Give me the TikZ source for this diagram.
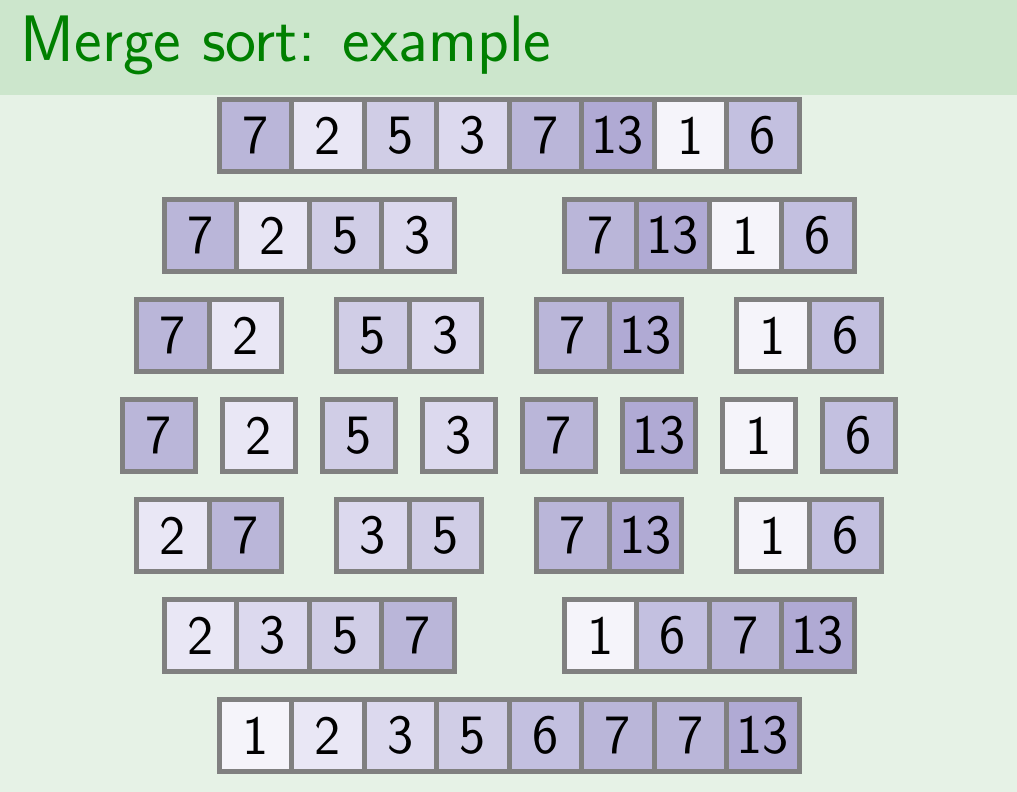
\documentclass[tikz,border=0pt]{standalone}
\usepackage{tikz}
\usetikzlibrary{positioning}

\definecolor{titlegreen}{HTML}{008000}
\definecolor{titlebg}{HTML}{CCE6CC}
\definecolor{bodybg}{HTML}{E6F2E6}
\definecolor{cellborder}{HTML}{808080}
\definecolor{v1}{HTML}{F5F4FA}
\definecolor{v2}{HTML}{E9E7F5}
\definecolor{v3}{HTML}{DCD9EE}
\definecolor{v5}{HTML}{D0CDE6}
\definecolor{v6}{HTML}{C3C0E0}
\definecolor{v7}{HTML}{BAB6D9}
\definecolor{v13}{HTML}{B0AAD4}

\begin{document}
\begin{tikzpicture}[%
    cell/.style={draw=cellborder,line width=0.05cm,minimum size=0.725cm,inner sep=0pt,
        font=\sffamily\fontsize{15.8}{19}\selectfont},
    slidetitle/.style={anchor=base west,inner sep=0pt,text=titlegreen,
        font=\sffamily\fontsize{18.7}{22}\selectfont}
]

% ---------------- Background and title ----------------
\useasboundingbox (0,0) rectangle (10.17,-7.92);
\fill[bodybg] (0,0) rectangle (10.17,-7.92);
\fill[titlebg] (0,0) rectangle (10.17,-0.95);
\node[slidetitle] (title) at (0.2,-0.617) {Merge sort: example};

% ---------------- Rows: split down, then merge up ----------------
\foreach \row/\n/\vals in {1/8/{7,2,5,3,7,13,1,6},
                           2/4/{7,2,5,3,7,13,1,6},
                           3/2/{7,2,5,3,7,13,1,6},
                           4/1/{7,2,5,3,7,13,1,6},
                           5/2/{2,7,3,5,7,13,1,6},
                           6/4/{2,3,5,7,1,6,7,13},
                           7/8/{1,2,3,5,6,7,7,13}} {
    \foreach \v [count=\k from 0] in \vals {
        \pgfmathtruncatemacro{\g}{floor(\k/\n)}
        \pgfmathtruncatemacro{\i}{\k-\g*\n}
        \pgfmathsetmacro{\x}{1.09+\n/2+\g*\n+(\i-(\n-1)/2)*0.725}
        \node[cell,fill=v\v] (c\row-\k) at (\x,{-0.355-\row}) {\v};
    }
}

\end{tikzpicture}
\end{document}
